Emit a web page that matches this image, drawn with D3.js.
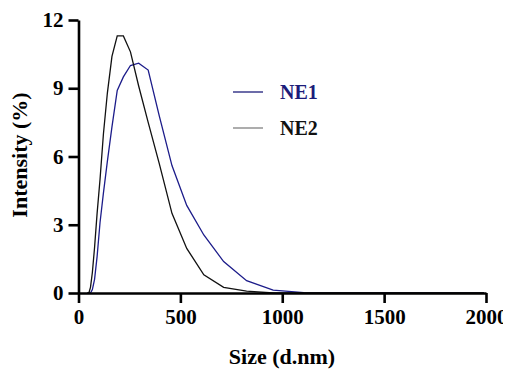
<!DOCTYPE html>
<html><head><meta charset="utf-8">
<script src="https://cdn.jsdelivr.net/npm/d3@7"></script>
</head><body><svg id="c" width="511" height="371" font-family="Liberation Serif" font-weight="bold"></svg>
<script>
const sizes = [43.82, 50.75, 58.77, 68.06, 78.82, 91.28, 105.7, 122.4, 141.8, 164.2, 190.1, 220.2, 255.0, 295.3, 342.0, 396.1, 458.7, 531.2, 615.1, 712.4, 825.0, 955.4, 1106, 1281, 1484, 1718, 1990];
const blackSeries = [0, 0, 0.25, 0.9, 2.0, 3.5, 5.0, 7.0, 8.8, 10.4, 11.3, 11.3, 10.6, 9.1, 7.5, 5.7, 3.5, 1.96, 0.8, 0.25, 0.08, 0, 0, 0, 0, 0, 0];
const blueSeries  = [0, 0, 0, 0.15, 0.6, 1.6, 3.1, 4.4, 5.8, 7.3, 8.9, 9.5, 10.0, 10.1, 9.8, 7.8, 5.6, 3.85, 2.55, 1.38, 0.54, 0.13, 0.02, 0, 0, 0, 0];
const xTicks = [0, 500, 1000, 1500, 2000];
const yTicks = [0, 3, 6, 9, 12];
const legendLabels = ["NE1", "NE2"];

// page keeps its default 8px body margin; shift the drawing back to the window origin
const root = d3.select("#c").append("g").attr("transform","translate(-8,-8)");

const x = d3.scaleLinear().domain([0, 2000]).range([78.5, 486]);
const y = d3.scaleLinear().domain([0, 12]).range([293, 20]);

const line = d3.line().x((d,i)=>x(sizes[i])).y(d=>y(d));

root.append("path").datum(blueSeries).attr("d", line).attr("fill","none").attr("stroke","#1c1c8a").attr("stroke-width",1.3);
root.append("path").datum(blackSeries).attr("d", line).attr("fill","none").attr("stroke","#111").attr("stroke-width",1.3);

const xa = root.append("g").attr("transform","translate(0,293)")
  .call(d3.axisBottom(x).tickValues(xTicks).tickFormat(d3.format("d")).tickSize(10).tickSizeOuter(0).tickPadding(6));
const ya = root.append("g").attr("transform","translate(78.5,0)")
  .call(d3.axisLeft(y).tickValues(yTicks).tickSize(10).tickSizeOuter(0).tickPadding(5));
[xa, ya].forEach(a=>{
  a.attr("font-family","Liberation Serif").attr("font-size","21").attr("font-weight","bold");
  a.select(".domain").attr("stroke","#000").attr("stroke-width",2.6);
  a.selectAll(".tick line").attr("stroke","#000").attr("stroke-width",2.6);
  a.selectAll(".tick text").attr("fill","#000");
});

root.append("text").attr("x",282).attr("y",364).attr("text-anchor","middle")
  .attr("font-family","Liberation Serif").attr("font-weight","bold").attr("font-size","22").text("Size (d.nm)");
root.append("text").attr("transform","translate(27,155) rotate(-90)").attr("text-anchor","middle")
  .attr("font-family","Liberation Serif").attr("font-weight","bold").attr("font-size","22").text("Intensity (%)");

const legColors = ["#1c1c7a", "#808080"];
const legText = ["#1c1c7a", "#111"];
legendLabels.forEach((l,i)=>{
  const yy = 92 + i*36;
  root.append("line").attr("x1",233).attr("x2",263).attr("y1",yy).attr("y2",yy).attr("stroke",legColors[i]).attr("stroke-width",1.3);
  root.append("text").attr("x",280).attr("y",yy+7).attr("fill",legText[i])
    .attr("font-family","Liberation Serif").attr("font-weight","bold").attr("font-size","20").text(l);
});
</script></body></html>
